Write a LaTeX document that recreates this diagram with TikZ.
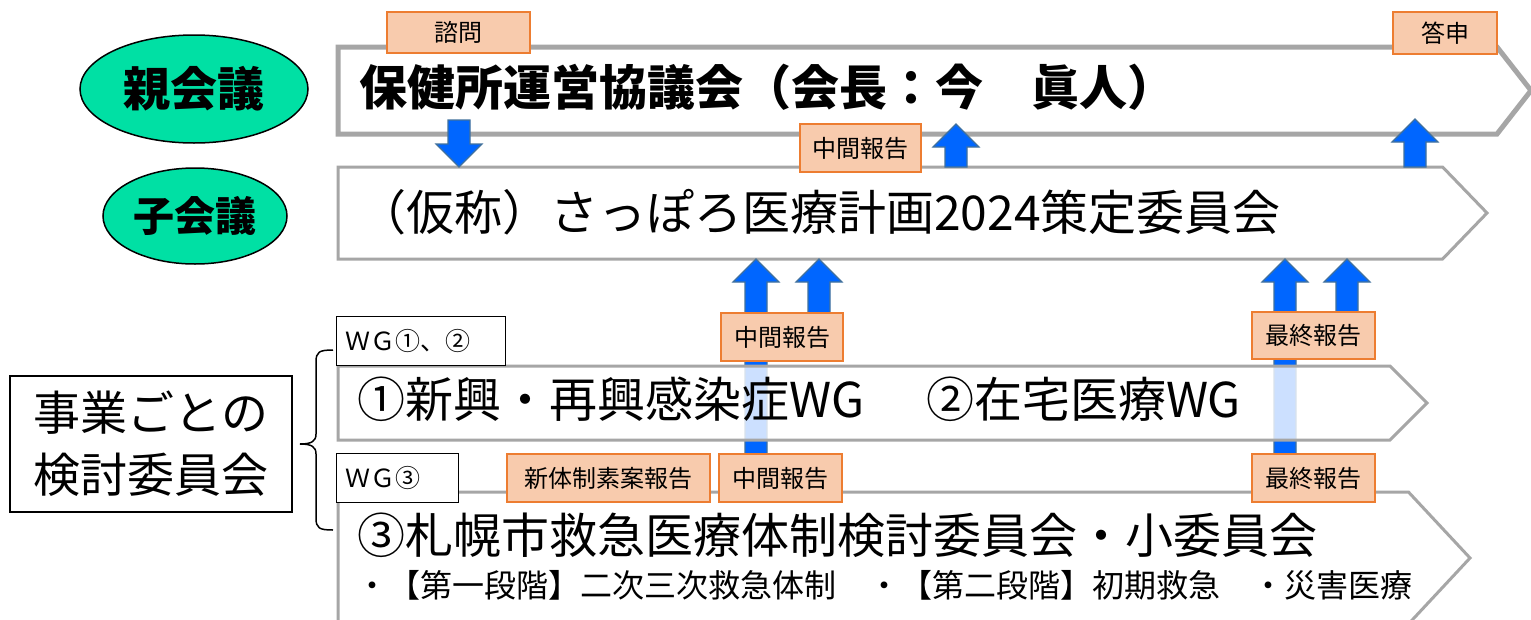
\documentclass[tikz,border=0pt]{standalone}
\usepackage{fontspec}
\setmainfont{Noto Sans CJK JP}
\usetikzlibrary{shapes.symbols,shapes.geometric,calc,positioning}
\definecolor{rowgray}{HTML}{A6A6A6}
\definecolor{labfill}{HTML}{F8CBAD}
\definecolor{labedge}{HTML}{ED7D31}
\definecolor{arrblue}{HTML}{0066FF}
\definecolor{arredge}{HTML}{41719C}
\definecolor{meetgreen}{HTML}{00E0A4}
\newcommand\fs[1]{\fontsize{#1}{#1}\selectfont}
% block arrow from #1 (foot) to #2 (tip)
\newcommand\blockarrow[2]{%
  \draw[blockarr] let \p1=(#1), \p2=(#2), \n1={ifthenelse(\y2>\y1,1,-1)} in
    (\x1-11pt,\y1) -- (\x1-11pt,\y2-\n1*23pt) -- (\x1-23pt,\y2-\n1*23pt) -- (\x1,\y2)
    -- (\x1+23pt,\y2-\n1*23pt) -- (\x1+11pt,\y2-\n1*23pt) -- (\x1+11pt,\y1) -- cycle;}
\tikzset{
  row/.style={shape=signal, signal to=east, signal from=nowhere, draw=rowgray, fill=white,
    line width=3pt, inner sep=0pt, outer sep=0pt, anchor=west},
  lab/.style={draw=labedge, fill=labfill, line width=1.5pt, inner sep=0pt, font=\fs{24}},
  meet/.style={ellipse, draw, fill=meetgreen, line width=1.5pt, inner sep=0pt},
  wgbox/.style={draw, fill=white, line width=1pt, inner xsep=9pt, inner ysep=0pt,
    minimum height=49pt, align=left, font=\fs{25}},
  blockarr/.style={fill=arrblue, draw=arredge, line width=1.2pt, line join=miter}
}
\begin{document}
\begin{tikzpicture}[x=1pt,y=-1pt]
  \fill[white] (0,0) rectangle (1531,619);
  \useasboundingbox (0,0) rectangle (1531,619);

  % meetings
  \node[row, line width=5pt, minimum width=1193pt, minimum height=87pt, signal pointer angle=104] (parent) at (338,90.5) {};
  \node[row, minimum width=1149pt, minimum height=92pt, signal pointer angle=92] (child) at (338,213) {};
  \node[anchor=west, inner sep=0pt, font=\fs{48}\bfseries] (parenttxt) at ($(parent.west)+(21,-3)$) {保健所運営協議会（会長：今　眞人）};
  \node[anchor=west, inner sep=0pt, font=\fs{48}] (childtxt) at ($(child.west)+(20,-1)$) {（仮称）さっぽろ医療計画2024策定委員会};

  % arrows
  \coordinate (asktip) at (459,120);
  \coordinate (midtip) at (956,124);
  \coordinate (anstip) at (1415,119);
  \blockarrow{asktip}{459,0 |- child.north}
  \blockarrow{956,0 |- child.north}{midtip}
  \blockarrow{1415,0 |- child.north}{anstip}

  \def\labels{ask/458.5/32.5/143/41/諮問, answer/1445/33/104/42/答申, midrep/860.5/148/121/48/中間報告,
    midrepA/782/337/122/48/中間報告, finA/1313.5/335.5/123/47/最終報告,
    newsys/608.5/478/203/48/新体制素案報告, midrepB/780.5/478/123/48/中間報告, finB/1313.5/478/123/48/最終報告}
  \foreach \nm/\cx/\cy/\w/\h/\txt in \labels
  {  \coordinate (\nm pt) at (\cx,\cy);
  }
  \def\uplist{756/midrepBpt, 819/midrepApt, 1285/finBpt, 1347/finApt}
  \foreach \ax/\from in \uplist
  {  \blockarrow{\ax,0 |- \from}{\ax,0 |- child.south}
  }

  % working groups
  \node[row, fill opacity=0.8, minimum width=1089pt, minimum height=74pt, signal pointer angle=90] (wgA) at (338,403) {};
  \node[row, minimum width=1132pt, minimum height=132pt, signal pointer angle=94] (wgB) at (338,558) {};
  \node[anchor=west, inner sep=0pt, font=\fs{48}] (wgAtxt) at ($(wgA.west)+(19,-4)$) {①新興・再興感染症WG\hspace{62pt}②在宅医療WG};
  \node[anchor=west, inner sep=0pt, font=\fs{48}] (wgBtxt) at ($(wgB.west)+(19,-23)$) {③札幌市救急医療体制検討委員会・小委員会};
  \node[anchor=west, inner sep=0pt, font=\fs{32}] (wgBsub) at ($(wgB.west)+(18,27)$) {・【第一段階】二次三次救急体制　・【第二段階】初期救急　・災害医療};

  \foreach \nm/\cx/\cy/\w/\h/\txt in \labels
  {  \node[lab, minimum width=\w pt, minimum height=\h pt] (\nm) at (\cx,\cy) {\txt};
  }
  \node[wgbox, text width=151pt] (wgone) at (420.5,340.5) {ＷＧ①、②};
  \node[wgbox, text width=104pt] (wgthree) at (397,478) {ＷＧ③};

  % left side
  \node[meet, minimum width=228pt, minimum height=108pt, font=\fs{47}\bfseries] (oya) at (194,89) {親会議};
  \node[meet, minimum width=184pt, minimum height=96pt, font=\fs{41}\bfseries] (ko) at (195,216) {子会議};
  \node[draw, line width=1.5pt, inner sep=0pt, minimum width=282pt, minimum height=136pt, align=center,
    font=\fontsize{47}{62}\selectfont] (jigyo) at (151,444) {事業ごとの\\検討委員会};
  \draw[line width=1.5pt] (333,350) .. controls (319,350) and (316,352) .. (316,362) -- (316,434)
    .. controls (316,441) and (312,444) .. (300,444) .. controls (312,444) and (316,447) .. (316,454)
    -- (316,518) .. controls (316,528) and (319,530) .. (333,530);
\end{tikzpicture}
\end{document}
